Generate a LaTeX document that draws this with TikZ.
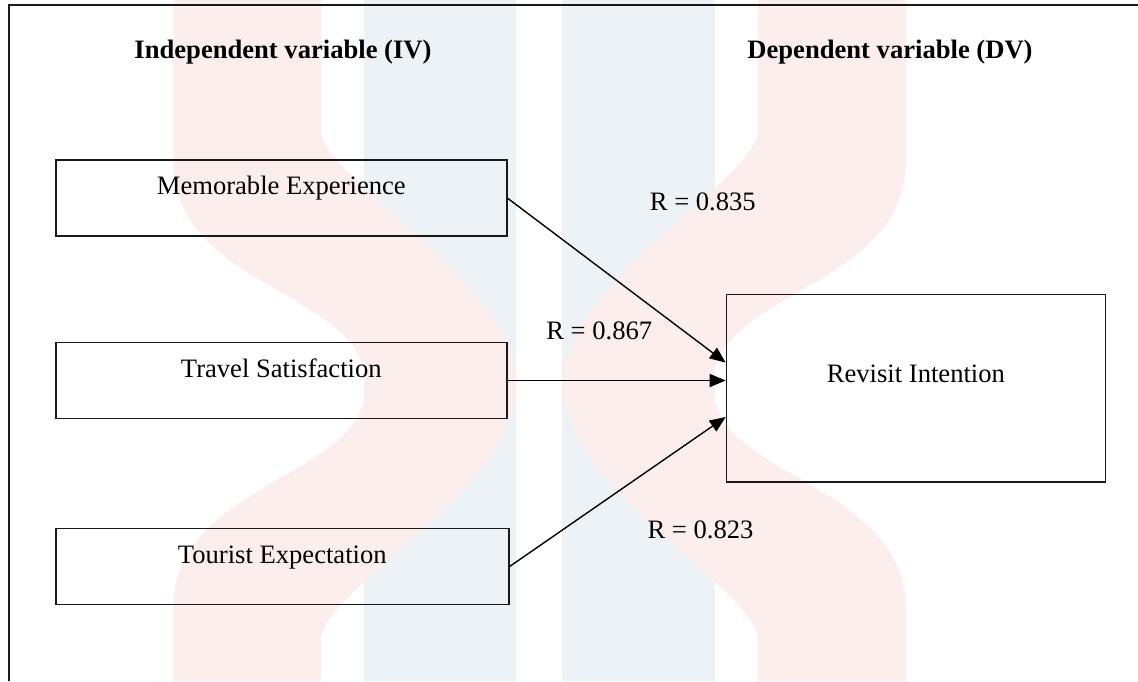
\documentclass[tikz,border=0pt]{standalone}
\usepackage{fontspec}
\setmainfont{Liberation Serif}
\usetikzlibrary{arrows.meta}
\definecolor{wmpink}{RGB}{253,238,238}
\definecolor{wmblue}{RGB}{237,242,247}
\definecolor{frame}{RGB}{25,25,25}
\tikzset{
  box/.style={draw=frame, line width=1.6pt, inner xsep=0pt, inner ysep=0pt,
    anchor=north west, align=center, font=\fontsize{26.6}{30}\selectfont},
  lbl/.style={anchor=base, inner sep=0pt, font=\fontsize{26.6}{30}\selectfont},
  head/.style={anchor=base, inner sep=0pt, font=\fontsize{26.6}{30}\selectfont\bfseries},
  arr/.style={line width=1.4pt, -{Triangle[length=16pt,width=13pt]}},
  ribbon/.style={fill=wmpink, draw=none}
}
\begin{document}
\begin{tikzpicture}[x=1pt,y=-1pt]
\useasboundingbox (0,0) rectangle (1138,681);
\fill[white] (0,0) rectangle (1138,681);
% watermark
\fill[wmblue] (364,0) rectangle (516,681);
\fill[wmblue] (562,0) rectangle (715,681);
\fill[ribbon] (173,0) -- (173,160) .. controls (173,290) and (366,290) .. (366,385)
  .. controls (366,480) and (173,480) .. (173,610) -- (173,681) -- (321,681) -- (321,640)
  .. controls (321,590) and (516,490) .. (516,385)
  .. controls (516,280) and (321,180) .. (321,130) -- (321,0) -- cycle;
\begin{scope}[xshift=1079pt, xscale=-1]
\fill[ribbon] (173,0) -- (173,160) .. controls (173,290) and (366,290) .. (366,385)
  .. controls (366,480) and (173,480) .. (173,610) -- (173,681) -- (321,681) -- (321,640)
  .. controls (321,590) and (516,490) .. (516,385)
  .. controls (516,280) and (321,180) .. (321,130) -- (321,0) -- cycle;
\end{scope}
% frame
\coordinate (fc) at (9,5);
\coordinate (fr) at (1138,5);
\coordinate (fb) at (9,681);
\draw[frame, line width=1.8pt] (fr) -- (fc) -- (fb);
% headings
\node[head] (hiv) at (283,58.3) {Independent variable (IV)};
\node[head] (hdv) at (890,58.3) {Dependent variable (DV)};
% boxes
\node[box, minimum width=451pt, text height=34.6pt, text depth=41.4pt] (me) at (55,159.4) {Memorable Experience};
\node[box, minimum width=451pt, text height=34.6pt, text depth=41.6pt] (ts) at (55,341.6) {Travel Satisfaction};
\node[box, minimum width=453pt, text height=34.6pt, text depth=41.4pt] (te) at (55,527.7) {Tourist Expectation};
\node[box, minimum width=378.8pt, text height=88.2pt, text depth=99.4pt] (ri) at (725.7,293.6) {Revisit Intention};
% arrow targets
\coordinate (t1) at (725.7,362.6);
\coordinate (t3) at (725.7,417);
\draw[arr] (me.east) -- (t1);
\draw[arr] (ts.east) -- (ts.east -| ri.west);
\draw[arr] (te.east) -- (t3);
% labels
\node[lbl] (r1) at (702.8,210) {R = 0.835};
\node[lbl] (r2) at (599.2,339.3) {R = 0.867};
\node[lbl] (r3) at (700.5,538.5) {R = 0.823};
\end{tikzpicture}
\end{document}
